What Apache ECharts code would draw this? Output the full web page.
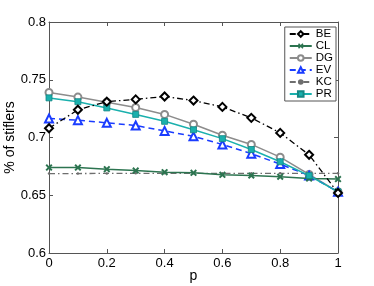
<!DOCTYPE html>
<html><head><meta charset="utf-8">
<script src="https://cdn.jsdelivr.net/npm/echarts@6/dist/echarts.min.js"></script>
<style>html,body{margin:0;padding:0;background:#fff}#c{width:374px;height:286px}</style>
</head><body><div id="c"></div>
<script>
const pValues = [0, 0.1, 0.2, 0.3, 0.4, 0.5, 0.6, 0.7, 0.8, 0.9, 1];
const BE = [0.708, 0.724, 0.731, 0.733, 0.7355, 0.732, 0.7265, 0.717, 0.704, 0.685, 0.652];
const CL = [0.674, 0.674, 0.6726, 0.6714, 0.670, 0.6694, 0.6677, 0.6671, 0.666, 0.6645, 0.664];
const DG = [0.739, 0.735, 0.7305, 0.726, 0.720, 0.7115, 0.702, 0.694, 0.683, 0.668, 0.653];
const EV = [0.7165, 0.715, 0.7127, 0.7104, 0.7057, 0.701, 0.694, 0.686, 0.677, 0.667, 0.653];
const KC = [0.6688, 0.6688, 0.6689, 0.669, 0.669, 0.669, 0.669, 0.669, 0.669, 0.669, 0.669];
const PR = [0.7343, 0.731, 0.7256, 0.720, 0.714, 0.7067, 0.699, 0.6896, 0.679, 0.667, 0.653];
const xTicks = [0, 0.2, 0.4, 0.6, 0.8, 1];
const yTicks = [0.6, 0.65, 0.7, 0.75, 0.8];

const font = 'Liberation Sans, Arial, Helvetica, sans-serif';
const axisCol = '#555';
const xShape = 'path://M0,2L2,0L5,3L8,0L10,2L7,5L10,8L8,10L5,7L2,10L0,8L3,5Z';
function pairs(arr){ return pValues.map((p,i)=>[p, arr[i]]); }

const chart = echarts.init(document.getElementById('c'), null, {renderer:'canvas'});
const baseX = {type:'value', min:0, max:1, interval:0.2,
  axisLine:{show:true, onZero:false, lineStyle:{color:axisCol, width:1}},
  axisTick:{show:true, inside:true, length:4, lineStyle:{color:axisCol}},
  splitLine:{show:false}};
const baseY = {type:'value', min:0.6, max:0.8, interval:0.05,
  axisLine:{show:true, onZero:false, lineStyle:{color:axisCol, width:1}},
  axisTick:{show:true, inside:true, length:4, lineStyle:{color:axisCol}},
  splitLine:{show:false}};
chart.setOption({
  animation:false,
  backgroundColor:'#fff',
  textStyle:{fontFamily:font},
  grid:{left:49, right:36, top:22, bottom:33, containLabel:false, outerBoundsMode:'none'},
  xAxis:[
    Object.assign({}, baseX, {position:'bottom', name:'p', nameLocation:'middle', nameGap:16,
      nameMoveOverlap:false,
      nameTextStyle:{fontSize:14, color:'#000', fontFamily:font},
      axisLabel:{fontSize:13, color:'#000', margin:4, fontFamily:font,
        formatter:v=>xTicks.includes(Math.round(v*10)/10)?String(Math.round(v*10)/10):''}}),
    Object.assign({}, baseX, {position:'top', axisLabel:{show:false}})
  ],
  yAxis:[
    Object.assign({}, baseY, {position:'left', name:'% of stiflers', nameLocation:'middle', nameGap:32,
      nameMoveOverlap:false,
      nameTextStyle:{fontSize:14, color:'#000', fontFamily:font},
      axisLabel:{fontSize:13, color:'#000', margin:3, fontFamily:font,
        formatter:v=>{const r=Math.round(v*100)/100; return yTicks.includes(r)?String(r):'';}}}),
    Object.assign({}, baseY, {position:'right', axisLabel:{show:false}})
  ],
  legend:{
    orient:'vertical', right:38, top:27, itemWidth:22, itemHeight:7, itemGap:0,
    padding:[1,3,1,4], backgroundColor:'#fff', borderColor:'#555', borderWidth:1,
    textStyle:{fontSize:11.5, lineHeight:12, color:'#000', fontFamily:font, padding:[0,0,0,-1]},
    data:['BE','CL','DG','EV','KC','PR']
  },
  series:[
    {name:'BE', type:'line', data:pairs(BE), symbol:'emptyDiamond', symbolSize:8,
      lineStyle:{color:'#000', width:1.3, type:[6,3,1.5,3]},
      itemStyle:{color:'#000', borderColor:'#000', borderWidth:1.6}, z:5},
    {name:'CL', type:'line', data:pairs(CL), symbol:xShape, symbolSize:7,
      lineStyle:{color:'#2c7450', width:1.5}, itemStyle:{color:'#2c7450'}, z:4},
    {name:'DG', type:'line', data:pairs(DG), symbol:'emptyCircle', symbolSize:7,
      lineStyle:{color:'#8c8c8c', width:1.5},
      itemStyle:{color:'#8c8c8c', borderColor:'#8c8c8c', borderWidth:1.5}, z:3},
    {name:'EV', type:'line', data:pairs(EV), symbol:'emptyTriangle', symbolSize:8,
      lineStyle:{color:'#1a3cff', width:1.5, type:[6,4]},
      itemStyle:{color:'#1a3cff', borderColor:'#1a3cff', borderWidth:1.5}, z:3},
    {name:'KC', type:'line', data:pairs(KC), symbol:'circle', symbolSize:2.5,
      lineStyle:{color:'#6e6e6e', width:1.3, type:[6,3,1.5,3]},
      itemStyle:{color:'#6e6e6e'}, z:2},
    {name:'PR', type:'line', data:pairs(PR), symbol:'rect', symbolSize:6,
      lineStyle:{color:'#1ab0ad', width:1.5},
      itemStyle:{color:'#1ab0ad', borderColor:'#138784', borderWidth:0.8}, z:4}
  ]
});
</script></body></html>
